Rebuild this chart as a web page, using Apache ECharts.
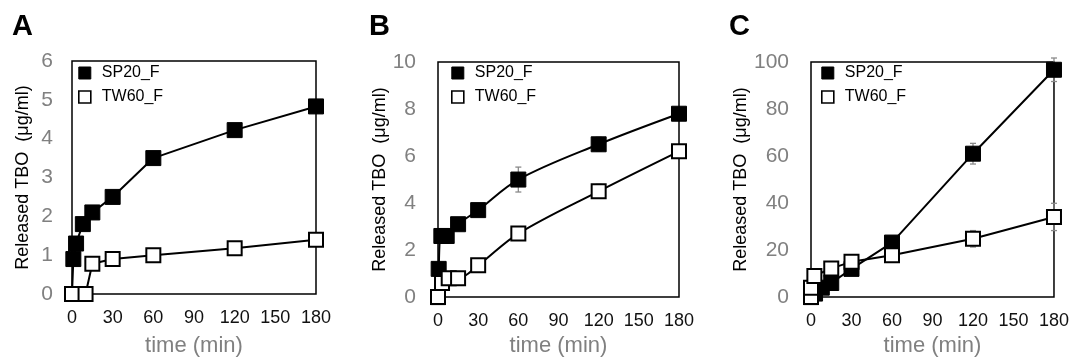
<!DOCTYPE html>
<html><head><meta charset="utf-8">
<script src="https://cdn.jsdelivr.net/npm/echarts@6/dist/echarts.min.js"></script>
<style>html,body{margin:0;padding:0;background:#fff}#c{width:1072px;height:362px}</style>
</head><body><div id="c"></div>
<script>
// ---------- data ----------
const panelLetters = ['A', 'B', 'C'];
const seriesNames = ['SP20_F', 'TW60_F'];
const xTickMax = 180, xTickStep = 30;
const yMax = [6, 10, 100];
const yStep = [1, 2, 20];

// Panel A
const aSpTime = [0, 1, 3, 8, 15, 30, 60, 120, 180];
const aSpVal  = [0, 0.9, 1.3, 1.8, 2.1, 2.5, 3.5, 4.22, 4.83];
const aSpErr  = [0, 0, 0, 0, 0, 0.05, 0.08, 0.15, 0.06];
const aTwTime = [0, 10, 15, 30, 60, 120, 180];
const aTwVal  = [0, 0, 0.78, 0.9, 1.0, 1.18, 1.4];
const aTwErr  = [0, 0, 0, 0, 0.05, 0.06, 0.05];

// Panel B
const bSpTime = [0, 0.5, 2.5, 6.5, 15, 30, 60, 120, 180];
const bSpVal  = [0, 1.2, 2.6, 2.6, 3.1, 3.7, 5.0, 6.5, 7.8];
const bSpErr  = [0, 0, 0, 0, 0, 0.1, 0.53, 0.3, 0.1];
const bTwTime = [0, 3, 8, 15, 30, 60, 120, 180];
const bTwVal  = [0, 0.6, 0.8, 0.8, 1.35, 2.7, 4.5, 6.2];
const bTwErr  = [0, 0, 0, 0, 0.05, 0.1, 0.3, 0.1];

// Panel C
const cSpTime = [0, 3, 8, 15, 30, 60, 120, 180];
const cSpVal  = [0, 1.5, 4, 6, 12, 23.2, 61, 96.7];
const cSpErr  = [0, 0, 0, 0, 0.5, 1, 4.4, 5];
const cTwTime = [0, 0, 2.5, 15, 30, 60, 120, 180];
const cTwVal  = [0, 4, 9, 12.2, 15, 17.8, 24.8, 34.1];
const cTwErr  = [0, 0, 0, 0, 0.5, 1, 3.5, 5.8];

// ---------- layout ----------
const FONT = '"Liberation Sans", Arial, sans-serif';
const grids = [
  {left: 72,  top: 61, width: 244, height: 235},
  {left: 438, top: 62, width: 241, height: 236},
  {left: 811, top: 62, width: 243, height: 238}
];
const yNameGap = [40, 46, 47];
const xNameGap = [41, 37, 36];
const yLabelMargin = [19, 22, 22];
const legendOffset = [6, 13, 10];
const letterLeft = [12, 369, 729];
const smoothFlag = [false, 0.35, false];

const panels = [
  {sp:[aSpTime,aSpVal,aSpErr], tw:[aTwTime,aTwVal,aTwErr]},
  {sp:[bSpTime,bSpVal,bSpErr], tw:[bTwTime,bTwVal,bTwErr]},
  {sp:[cSpTime,cSpVal,cSpErr], tw:[cTwTime,cTwVal,cTwErr]}
];

function pts(t, v) { return t.map((x, i) => [x, v[i]]); }
function errPts(t, v, e) { return t.map((x, i) => [x, v[i], e[i]]); }

function errRender(params, api) {
  const x = api.value(0), y = api.value(1), e = api.value(2);
  if (!e) return null;
  const hi = api.coord([x, y + e]), lo = api.coord([x, y - e]);
  const cap = 3;
  const st = {stroke: '#8a8a8a', lineWidth: 1.3};
  return {type: 'group', children: [
    {type: 'line', shape: {x1: hi[0], y1: hi[1], x2: lo[0], y2: lo[1]}, style: st},
    {type: 'line', shape: {x1: hi[0]-cap, y1: hi[1], x2: hi[0]+cap, y2: hi[1]}, style: st},
    {type: 'line', shape: {x1: lo[0]-cap, y1: lo[1], x2: lo[0]+cap, y2: lo[1]}, style: st}
  ]};
}

const option = {
  animation: false,
  backgroundColor: '#fff',
  textStyle: {fontFamily: FONT},
  title: panelLetters.map((L, i) => ({
    text: L, left: letterLeft[i], top: 12, padding: 0,
    textStyle: {fontSize: 29, fontWeight: 'bold', color: '#000', fontFamily: FONT}
  })),
  grid: grids.map(g => Object.assign({show: true, borderColor: '#000', borderWidth: 1.5, backgroundColor: 'transparent'}, g)),
  legend: grids.map((g, i) => ({
    orient: 'vertical', left: g.left + legendOffset[i], top: 63.5, padding: 0,
    itemWidth: 12, itemHeight: 12, itemGap: 5, selectedMode: false,
    textStyle: {fontSize: 16, color: '#000', lineHeight: 16, fontFamily: FONT, padding: [3, 0, 0, 6]},
    data: [
      {name: seriesNames[0], icon: 'rect', itemStyle: {color: '#000', borderColor: '#000', borderWidth: 1}},
      {name: seriesNames[1], icon: 'rect', itemStyle: {color: '#fff', borderColor: '#000', borderWidth: 1.6}}
    ]
  })),
  xAxis: grids.map((g, i) => ({
    type: 'value', gridIndex: i, min: 0, max: xTickMax, interval: xTickStep,
    name: 'time (min)', nameLocation: 'middle', nameGap: xNameGap[i],
    nameTextStyle: {fontSize: 22, color: '#808080', fontFamily: FONT},
    axisLine: {show: false}, axisTick: {show: false}, splitLine: {show: false},
    axisLabel: {fontSize: 18, color: '#111', margin: 15, fontFamily: FONT}
  })),
  yAxis: grids.map((g, i) => ({
    type: 'value', gridIndex: i, min: 0, max: yMax[i], interval: yStep[i],
    name: 'Released TBO  (μg/ml)', nameLocation: 'middle', nameGap: yNameGap[i],
    nameTextStyle: {fontSize: 18, color: '#000', fontFamily: FONT},
    axisLine: {show: false}, axisTick: {show: false}, splitLine: {show: false},
    axisLabel: {fontSize: 21, color: '#808080', margin: yLabelMargin[i], fontFamily: FONT}
  })),
  series: []
};

panels.forEach((p, i) => {
  option.series.push({
    type: 'custom', xAxisIndex: i, yAxisIndex: i, z: 1, silent: true,
    renderItem: errRender, encode: {x: 0, y: 1}, data: errPts(p.sp[0], p.sp[1], p.sp[2])
  });
  option.series.push({
    type: 'custom', xAxisIndex: i, yAxisIndex: i, z: 1, silent: true,
    renderItem: errRender, encode: {x: 0, y: 1}, data: errPts(p.tw[0], p.tw[1], p.tw[2])
  });
  option.series.push({
    name: seriesNames[0], type: 'line', xAxisIndex: i, yAxisIndex: i, z: 3,
    smooth: smoothFlag[i], symbol: 'rect', symbolSize: 15, showAllSymbol: true,
    lineStyle: {color: '#000', width: 2},
    itemStyle: {color: '#000', borderColor: '#000', borderWidth: 1, opacity: 1},
    data: pts(p.sp[0], p.sp[1])
  });
  option.series.push({
    name: seriesNames[1], type: 'line', xAxisIndex: i, yAxisIndex: i, z: 4,
    smooth: smoothFlag[i], symbol: 'rect', symbolSize: 14, showAllSymbol: true,
    lineStyle: {color: '#000', width: 2},
    itemStyle: {color: '#fff', borderColor: '#000', borderWidth: 2, opacity: 1},
    data: pts(p.tw[0], p.tw[1])
  });
});

const chart = echarts.init(document.getElementById('c'), null, {renderer: 'canvas'});
chart.setOption(option);
</script>
</body></html>
